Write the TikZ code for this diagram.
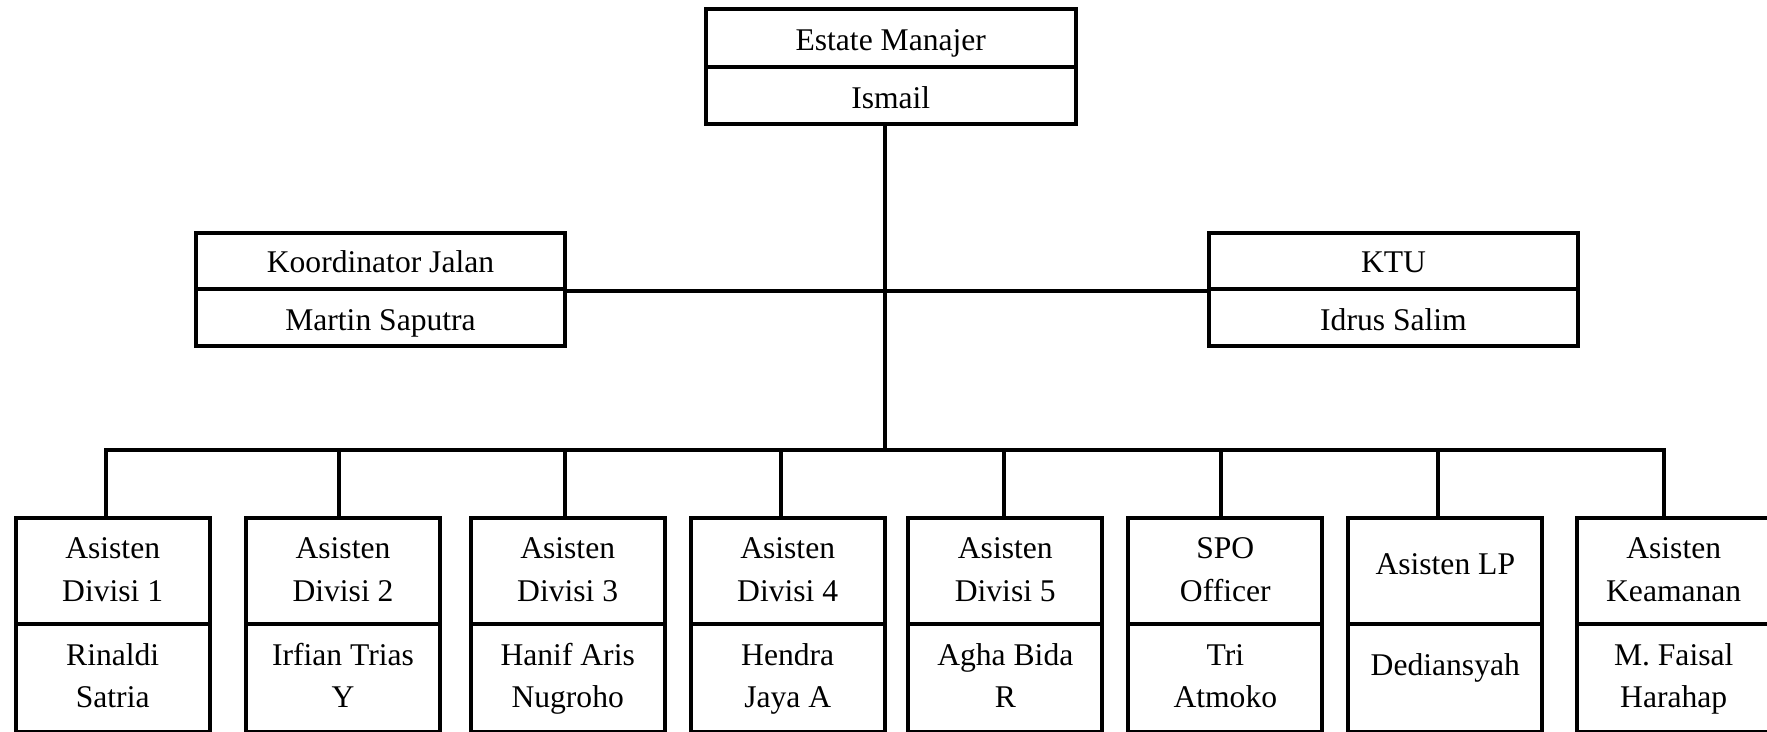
\documentclass[tikz,border=0pt]{standalone}
\usepackage{fontspec}
\setmainfont{Liberation Serif}
\begin{document}
\begin{tikzpicture}[x=1pt,y=-1pt,
  cell/.style={draw, line width=4pt, rectangle, inner sep=0pt},
  lbl/.style={anchor=base, inner sep=0pt, font=\fontsize{31.6}{40}\selectfont},
  link/.style={line width=4pt}]
\clip (0,0) rectangle (1767,731);
\fill[white] (0,0) rectangle (1767,731);
% top
\node[cell, minimum width=369.5pt, minimum height=57.5pt] (emt) at (890.75,37.75) {};
\node[cell, minimum width=369.5pt, minimum height=57.5pt] (emb) at (890.75,95.25) {};
\node[lbl] (emtx) at (890.75,50) {Estate Manajer};
\node[lbl] (embx) at (890.75,108) {Ismail};
% middle
\node[cell, minimum width=369pt, minimum height=56.3pt] (kjt) at (380.5,260.85) {};
\node[cell, minimum width=369pt, minimum height=57pt] (kjb) at (380.5,317.5) {};
\node[lbl] (kjtx) at (380.5,272.3) {Koordinator Jalan};
\node[lbl] (kjbx) at (380.5,330) {Martin Saputra};
\node[cell, minimum width=369pt, minimum height=56.3pt] (ktut) at (1393.5,260.85) {};
\node[cell, minimum width=369pt, minimum height=57pt] (ktub) at (1393.5,317.5) {};
\node[lbl] (ktutx) at (1393.5,272.3) {KTU};
\node[lbl] (ktubx) at (1393.5,330) {Idrus Salim};
% bottom boxes
\foreach \i/\cx/\sx/\ta/\tb/\na/\nb in {
  1/112.7/106/Asisten/Divisi 1/Rinaldi/Satria,
  2/343/338.5/Asisten/Divisi 2/Irfian Trias/Y,
  3/567.7/564.5/Asisten/Divisi 3/Hanif Aris/Nugroho,
  4/787.7/780.5/Asisten/Divisi 4/Hendra/Jaya A,
  5/1005.3/1004.3/Asisten/Divisi 5/Agha Bida/R,
  6/1225.3/1220.7/SPO/Officer/Tri/Atmoko,
  8/1673.7/1664.3/Asisten/Keamanan/M. Faisal/Harahap}{
  \node[cell, minimum width=194pt, minimum height=106pt] (b\i t) at (\cx,571.3) {};
  \node[cell, minimum width=194pt, minimum height=107.7pt] (b\i b) at (\cx,678.15) {};
  \node[lbl] (b\i ta) at (\cx,558.3) {\ta};
  \node[lbl] (b\i tb) at (\cx,601.7) {\tb};
  \node[lbl] (b\i na) at (\cx,665) {\na};
  \node[lbl] (b\i nb) at (\cx,707.7) {\nb};
  \coordinate (s\i) at (\sx,449.5);
}
\node[cell, minimum width=194pt, minimum height=106pt] (b7t) at (1445.3,571.3) {};
\node[cell, minimum width=194pt, minimum height=107.7pt] (b7b) at (1445.3,678.15) {};
\node[lbl] (b7ta) at (1445.3,574) {Asisten LP};
\node[lbl] (b7na) at (1445.3,675.7) {Dediansyah};
\coordinate (s7) at (1438.3,449.5);
% connectors
\coordinate (hub) at (885,449.5);
\draw[link] (emb.south -| hub) -- (hub);
\draw[link] (kjt.south east) -- (ktut.south west);
\draw[link] (s1 |- b1t.north) -- (s1) -- (s8) -- (s8 |- b8t.north);
\foreach \i in {2,...,7}{
  \draw[link] (s\i) -- (s\i |- b\i t.north);
}
\end{tikzpicture}
\end{document}
